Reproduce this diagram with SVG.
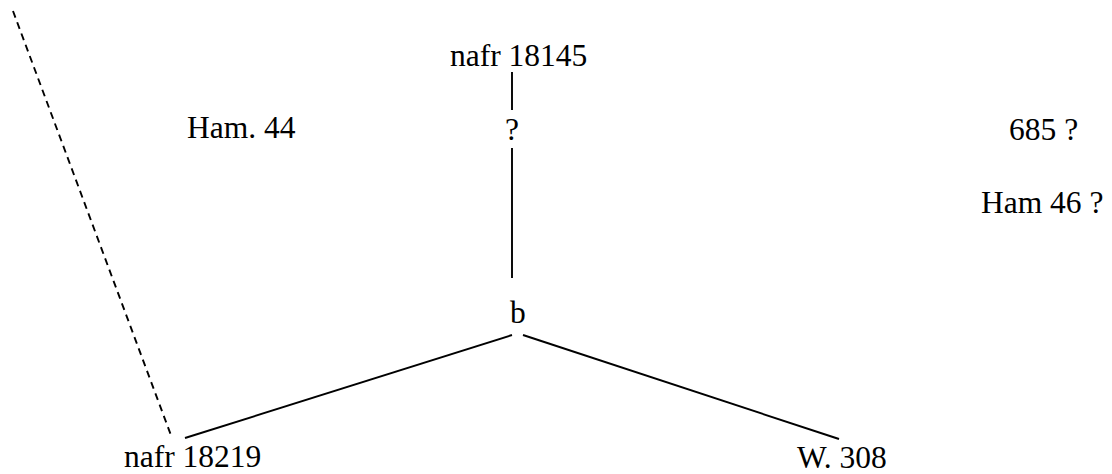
<svg xmlns="http://www.w3.org/2000/svg" width="1112" height="474" viewBox="0 0 1112 474">
<style>
text{font-family:"Liberation Serif","Times New Roman",serif;font-size:31.5px;fill:#000}
.e{stroke:#000;stroke-width:1.9;fill:none}
.d{stroke-dasharray:7,5}
</style>
<rect width="1112" height="474" fill="#fff"/>
<g id="connectors">
<line class="e d" x1="13" y1="11" x2="172" y2="438"/>
<line class="e" x1="512" y1="72" x2="512" y2="110"/>
<line class="e" x1="512" y1="148" x2="512" y2="278"/>
<line class="e" x1="185" y1="438" x2="512" y2="335"/>
<line class="e" x1="523" y1="335" x2="839" y2="439"/>
</g>
<g id="n18145"><text x="450" y="66">nafr 18145</text></g>
<g id="q"><text x="505" y="140">?</text></g>
<g id="ham44"><text x="187" y="138">Ham. 44</text></g>
<g id="n685"><text x="1009" y="140">685 ?</text></g>
<g id="ham46"><text x="981" y="213">Ham 46 ?</text></g>
<g id="b"><text x="510" y="323">b</text></g>
<g id="n18219"><text x="124" y="467">nafr 18219</text></g>
<g id="w308"><text x="797" y="468">W. 308</text></g>
</svg>
